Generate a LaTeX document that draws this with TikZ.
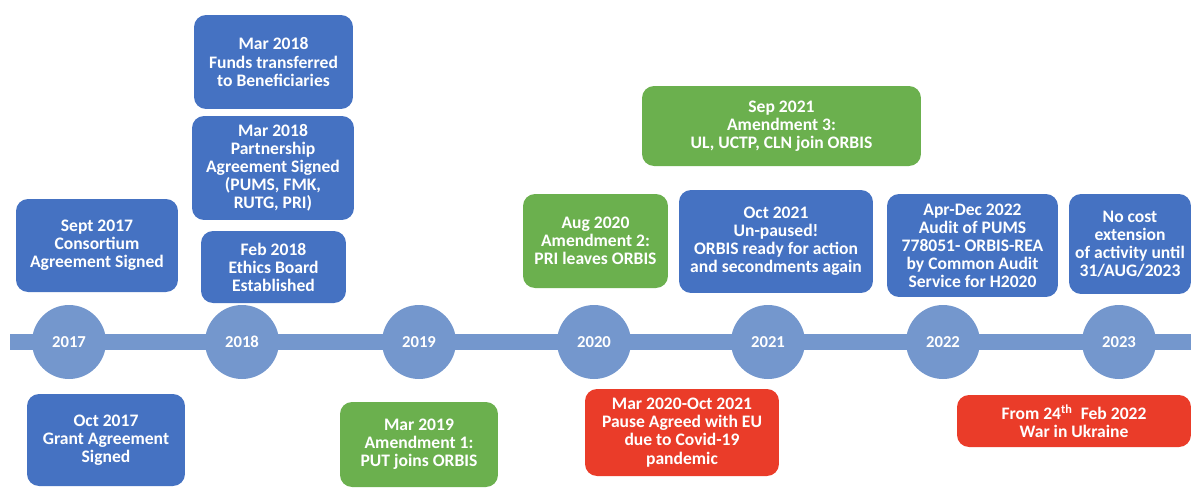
\documentclass[tikz,border=0pt]{standalone}
\usepackage{fontspec}
\setmainfont{Carlito}
\definecolor{evblue}{HTML}{4572C2}
\definecolor{evgreen}{HTML}{6BB04E}
\definecolor{evred}{HTML}{EA3C29}
\definecolor{linecol}{HTML}{7497CD}
\tikzset{
  evbox/.style={rounded corners=0.24cm, text=white, align=center, inner sep=2pt, font=\bfseries\fontsize{10}{10.3}\selectfont},
  yearnode/.style={circle, fill=linecol, minimum size=1.48cm, inner sep=0pt, text=white, font=\bfseries\fontsize{9.5}{11}\selectfont},
}
\begin{document}
\begin{tikzpicture}[x=0.02cm, y=-0.02cm]
\useasboundingbox (0,0) rectangle (1191,488);

% Draw the timeline bar
\coordinate (barstart) at (10,342);
\coordinate (barend) at (1191,342);
\draw[line width=0.32cm, linecol] (barstart) -- (barend);

% Year circles
\node[yearnode] (y2017) at (69,342) {2017};
\node[yearnode] (y2018) at (242,342) {2018};
\node[yearnode] (y2019) at (419,342) {2019};
\node[yearnode] (y2020) at (594,342) {2020};
\node[yearnode] (y2021) at (768,342) {2021};
\node[yearnode] (y2022) at (943,342) {2022};
\node[yearnode] (y2023) at (1119,342) {2023};

% Events above the timeline
\node[evbox, fill=evblue, minimum width=3.24cm, minimum height=1.86cm] (sept17) at (97,245.5) {Sept 2017\\Consortium\\Agreement Signed};
\node[evbox, fill=evblue, minimum width=3.18cm, minimum height=1.88cm] (funds18) at (273.5,62) {Mar 2018\\Funds transferred\\to Beneficiaries};
\node[evbox, fill=evblue, minimum width=3.24cm, minimum height=2.08cm] (partner18) at (273,168) {Mar 2018\\Partnership\\Agreement Signed\\(PUMS, FMK,\\RUTG, PRI)};
\node[evbox, fill=evblue, minimum width=2.9cm, minimum height=1.44cm] (ethics18) at (273.5,267) {Feb 2018\\Ethics Board\\Established};
\node[evbox, fill=evgreen, minimum width=2.9cm, minimum height=1.88cm] (aug20) at (595.5,241) {Aug 2020\\Amendment 2:\\PRI leaves ORBIS};
\node[evbox, fill=evgreen, minimum width=5.58cm, minimum height=1.6cm] (sep21) at (781.5,126) {Sep 2021\\Amendment 3:\\UL, UCTP, CLN join ORBIS};
\node[evbox, fill=evblue, minimum width=3.88cm, minimum height=2.06cm] (oct21) at (776,241.5) {Oct 2021\\Un-paused!\\ORBIS ready for action\\and secondments again};
\node[evbox, fill=evblue, minimum width=3.42cm, minimum height=2.06cm] (audit22) at (972.5,245.5) {Apr-Dec 2022\\Audit of PUMS\\778051- ORBIS-REA\\by Common Audit\\Service for H2020};
\node[evbox, fill=evblue, minimum width=2.44cm, minimum height=2.0cm] (ext23) at (1130,244) {No cost\\extension\\of activity until\\31/AUG/2023};

% Events below the timeline
\node[evbox, fill=evblue, minimum width=3.16cm, minimum height=1.84cm] (oct17) at (106,440) {Oct 2017\\Grant Agreement\\Signed};
\node[evbox, fill=evgreen, minimum width=3.16cm, minimum height=1.7cm] (mar19) at (419,444.5) {Mar 2019\\Amendment 1:\\PUT joins ORBIS};
\node[evbox, fill=evred, minimum width=3.88cm, minimum height=1.74cm] (pause20) at (682,432.5) {Mar 2020-Oct 2021\\Pause Agreed with EU\\due to Covid-19\\pandemic};
\node[evbox, fill=evred, minimum width=4.68cm, minimum height=1.04cm] (war22) at (1074,421) {From 24\textsuperscript{th}\ \ Feb 2022\\War in Ukraine};
\end{tikzpicture}
\end{document}
